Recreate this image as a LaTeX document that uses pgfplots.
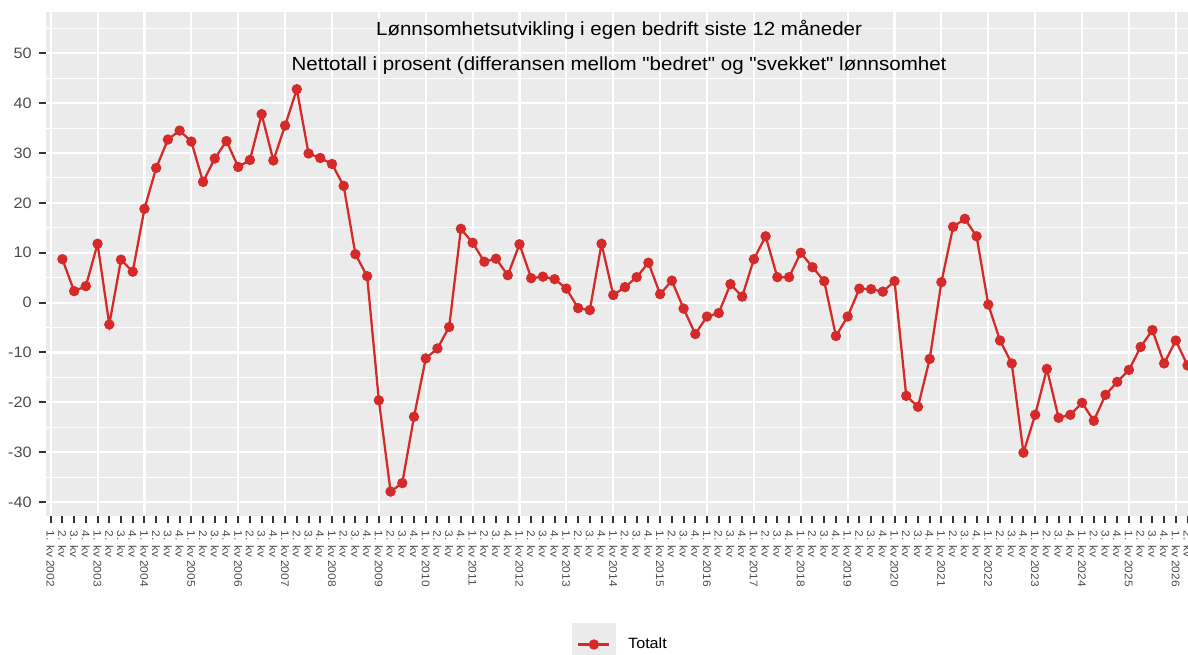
\documentclass[border=0pt]{standalone}
\usepackage{fontspec}
\setmainfont{Liberation Sans}[FakeStretch=1.08, Ligatures=TeXOff]
\usepackage{pgfplots}
\pgfplotsset{compat=1.18}
\definecolor{panelbg}{HTML}{EBEBEB}
\definecolor{linered}{HTML}{D42A2A}
\definecolor{tickgray}{HTML}{333333}
\definecolor{labgray}{HTML}{4D4D4D}
\begin{document}
\begin{tikzpicture}
\begin{axis}[
  name=main,
  scale only axis,
  width=856.5pt, height=378pt,
  xmin=-0.40, xmax=97.04, ymin=-42.8, ymax=58.28,
  axis background/.style={fill=panelbg},
  axis line style={draw=none},
  tick pos=left,
  tick align=outside,
  major tick length=5.3pt,
  minor tick length=0pt,
  tick style={draw=tickgray, line width=1.5pt},
  ytick={-40,-30,...,50},
  minor ytick={-35,-25,...,55},
  ymajorgrids, yminorgrids,
  major grid style={white, line width=1.6pt},
  minor grid style={white, line width=0.8pt},
  xtick={0,...,97},
  xticklabels={1. kv 2002,2. kv,3. kv,4. kv,1. kv 2003,2. kv,3. kv,4. kv,1. kv 2004,2. kv,3. kv,4. kv,1. kv 2005,2. kv,3. kv,4. kv,1. kv 2006,2. kv,3. kv,4. kv,1. kv 2007,2. kv,3. kv,4. kv,1. kv 2008,2. kv,3. kv,4. kv,1. kv 2009,2. kv,3. kv,4. kv,1. kv 2010,2. kv,3. kv,4. kv,1. kv 2011,2. kv,3. kv,4. kv,1. kv 2012,2. kv,3. kv,4. kv,1. kv 2013,2. kv,3. kv,4. kv,1. kv 2014,2. kv,3. kv,4. kv,1. kv 2015,2. kv,3. kv,4. kv,1. kv 2016,2. kv,3. kv,4. kv,1. kv 2017,2. kv,3. kv,4. kv,1. kv 2018,2. kv,3. kv,4. kv,1. kv 2019,2. kv,3. kv,4. kv,1. kv 2020,2. kv,3. kv,4. kv,1. kv 2021,2. kv,3. kv,4. kv,1. kv 2022,2. kv,3. kv,4. kv,1. kv 2023,2. kv,3. kv,4. kv,1. kv 2024,2. kv,3. kv,4. kv,1. kv 2025,2. kv,3. kv,4. kv,1. kv 2026,2. kv},
  extra x ticks={0,4,...,96},
  extra x tick labels={},
  extra x tick style={grid=major, major tick length=0pt},
  /pgf/number format/assume math mode=true,
  yticklabel style={font=\fontsize{11.3}{13}\selectfont, text=labgray, inner sep=0pt, xshift=-5.25pt},
  xticklabel style={font=\fontsize{8.3}{9}\selectfont, text=labgray, rotate=-90, anchor=west, inner sep=0pt, xshift=5.5pt},
  legend style={at={(axis description cs:0.4606,-0.255)}, anchor=west, draw=none, fill=none, inner sep=0pt,
    font=\fontsize{11.2}{12}\selectfont,
    /tikz/every odd column/.append style={column sep=7.5pt}},
  legend image code/.code={\fill[panelbg] (0pt,-15.375pt) rectangle (30.75pt,15.375pt);
    \draw[mark repeat=2,mark phase=2,#1] plot coordinates {(3.75pt,0pt) (15.375pt,0pt) (27pt,0pt)};},
]
\addplot[linered, line width=1.7pt, mark=*, mark size=3pt,
  mark options={solid, fill=linered, draw=none}] table {
x y
1 8.7
2 2.3
3 3.3
4 11.8
5 -4.4
6 8.6
7 6.2
8 18.8
9 27.0
10 32.7
11 34.5
12 32.3
13 24.2
14 28.9
15 32.4
16 27.2
17 28.6
18 37.8
19 28.5
20 35.5
21 42.8
22 29.9
23 29.0
24 27.8
25 23.4
26 9.7
27 5.3
28 -19.6
29 -37.9
30 -36.2
31 -22.9
32 -11.2
33 -9.2
34 -4.9
35 14.8
36 12.0
37 8.2
38 8.8
39 5.5
40 11.7
41 4.9
42 5.2
43 4.7
44 2.8
45 -1.1
46 -1.5
47 11.8
48 1.5
49 3.1
50 5.1
51 8.0
52 1.7
53 4.4
54 -1.2
55 -6.3
56 -2.8
57 -2.1
58 3.7
59 1.2
60 8.7
61 13.3
62 5.1
63 5.1
64 10.0
65 7.1
66 4.3
67 -6.7
68 -2.8
69 2.8
70 2.7
71 2.2
72 4.3
73 -18.7
74 -20.9
75 -11.3
76 4.1
77 15.2
78 16.8
79 13.3
80 -0.4
81 -7.6
82 -12.2
83 -30.1
84 -22.5
85 -13.3
86 -23.1
87 -22.5
88 -20.1
89 -23.7
90 -18.5
91 -15.9
92 -13.5
93 -8.9
94 -5.5
95 -12.2
96 -7.6
97 -12.6
};
\addlegendentry{Totalt}
\node[anchor=base, font=\fontsize{14.25}{16}\selectfont] at (axis description cs:0.5018,0.9524) {Lønnsomhetsutvikling i egen bedrift siste 12 måneder};
\node[anchor=base, font=\fontsize{14.25}{16}\selectfont] at (axis description cs:0.5018,0.8839) {Nettotall i prosent (differansen mellom "bedret" og "svekket" lønnsomhet};
\end{axis}
\pgfresetboundingbox
\path ([shift={(-34.5pt,-103.5pt)}]main.south west) rectangle ++(891pt,490.5pt);
\end{tikzpicture}
\end{document}
